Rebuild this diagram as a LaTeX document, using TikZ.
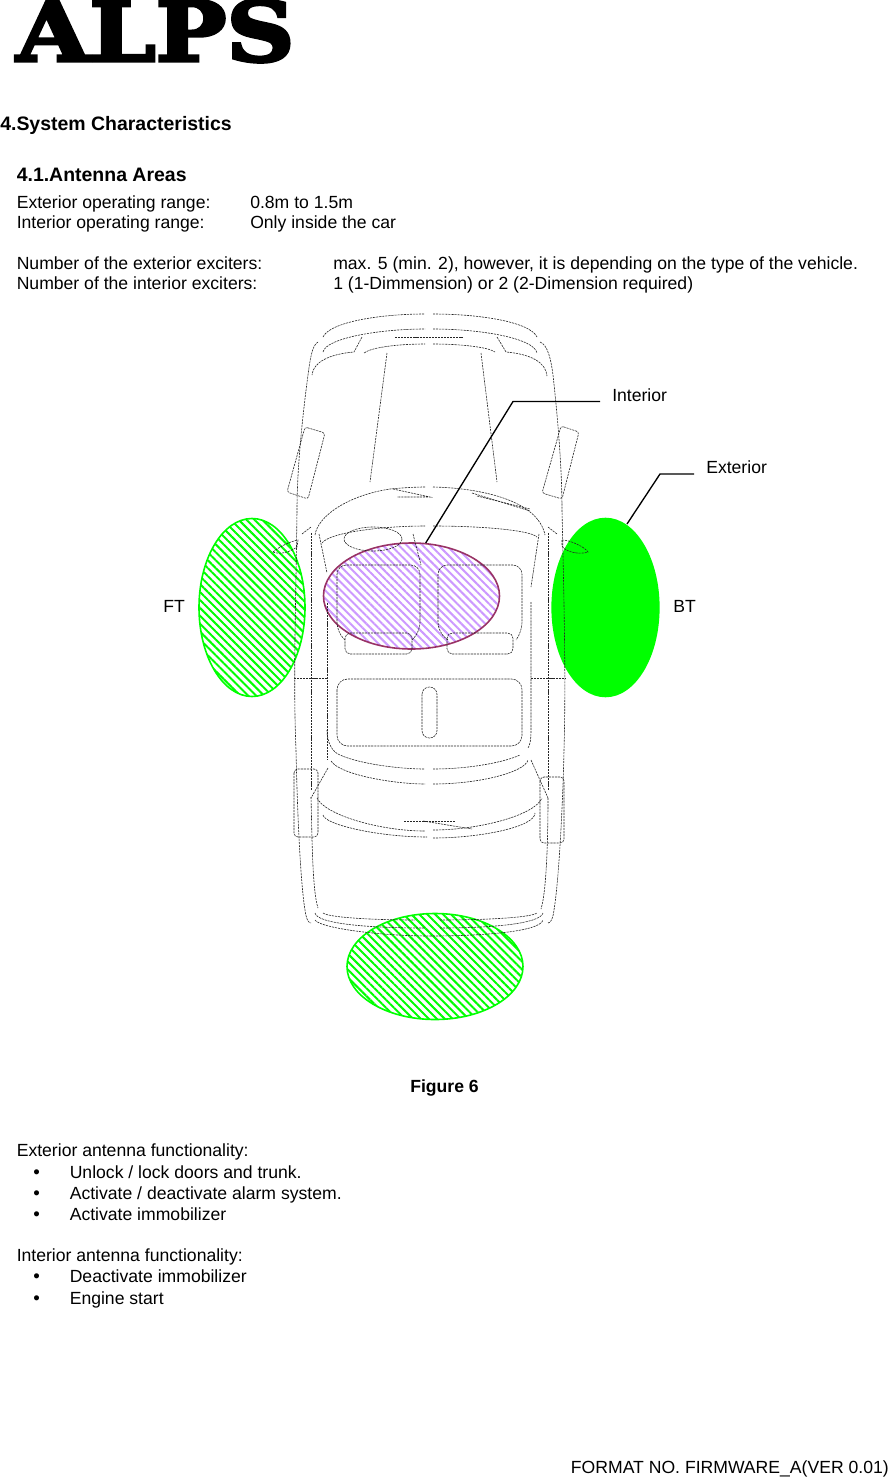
\documentclass[tikz,border=0pt]{standalone}
\usepackage{fontspec}
\setmainfont{Liberation Sans}
\newfontfamily\logofont[FakeBold=4,FakeStretch=1.14]{DejaVu Serif Bold}
\usetikzlibrary{patterns.meta,shapes.geometric}
\definecolor{antennagreen}{RGB}{0,255,0}
\definecolor{interiorhatch}{RGB}{204,153,255}
\definecolor{interiorrim}{RGB}{153,51,102}
\tikzset{
	bodytext/.style={anchor=base west, inner sep=0pt, font=\fontsize{13.2pt}{15pt}\selectfont},
	bullettext/.style={anchor=base west, inner sep=0pt, font=\fontsize{14pt}{15pt}\selectfont},
	headtext/.style={anchor=base west, inner sep=0pt, font=\fontsize{14.6pt}{17pt}\selectfont\bfseries},
	carline/.style={line width=0.45pt, black!85, dash pattern=on 1.6pt off 0.7pt},
	leader/.style={line width=1pt, black},
	area/.style={ellipse, inner sep=0pt, line width=1.2pt},
	hatchgreen/.style={draw=antennagreen, pattern={Lines[angle=-45, distance=4.2pt, line width=1.5pt]}, pattern color=antennagreen},
	hatchpurple/.style={draw=interiorrim, pattern={Lines[angle=-45, distance=4.2pt, line width=1.5pt]}, pattern color=interiorhatch}
}
\begin{document}
\begin{tikzpicture}[x=0.75pt, y=-0.75pt]
	\useasboundingbox (0,0) rectangle (888,1477);
	\node [anchor=base west, inner sep=0pt, font=\fontsize{62pt}{64pt}\logofont] (logo) at (16,61) {ALPS};
	%Testo in alto
	\node [headtext] (titlemain) at (0,130) {4.System Characteristics};
	\node [headtext] (titlesub) at (16.5,181) {4.1.Antenna Areas};
	\node [bodytext] (exrange) at (16.5,208) {Exterior operating range:};
	\node [bodytext] (exrangeval) at (250,208) {0.8m to 1.5m};
	\node [bodytext] (inrange) at (16.5,228) {Interior operating range:};
	\node [bodytext] (inrangeval) at (250,228) {Only inside the car};
	\node [bodytext] (exnumber) at (16.5,269) {Number of the exterior exciters:};
	\node [bodytext] (exnumberval) at (333,269) {max. 5 (min. 2), however, it is depending on the type of the vehicle.};
	\node [bodytext] (innumber) at (16.5,289) {Number of the interior exciters:};
	\node [bodytext] (innumberval) at (333,289) {1 (1-Dimmension) or 2 (2-Dimension required)};
	%Aree delle antenne
	\node [area, hatchgreen, minimum width=79.5pt, minimum height=133.5pt] (ftarea) at (252,607.5) {};
	\node [area, draw=antennagreen, fill=antennagreen, minimum width=80pt, minimum height=133.5pt] (btarea) at (605.5,607.5) {};
	\node [area, hatchgreen, minimum width=132pt, minimum height=79.5pt] (reararea) at (435,966.5) {};
	\node [area, hatchpurple, minimum width=132pt, minimum height=79.5pt] (interiorarea) at (411.5,596) {};
	%Carrozzeria
	\draw [carline] (323,337) .. controls (330,322) and (380,314) .. (425,314);
	\draw [carline] (433,314) .. controls (480,314) and (530,322) .. (537,337);
	\draw [carline] (323,352) .. controls (326,338) and (380,329) .. (425,329);
	\draw [carline] (433,329) .. controls (480,329) and (534,338) .. (537,353);
	\draw [carline] (395,337) -- (463,337);
	\draw [carline] (362,337) -- (354,352) .. controls (330,354) and (313,362) .. (312,375);
	\draw [carline] (497,337) -- (506,352) .. controls (530,354) and (546,362) .. (547,376);
	\draw [carline] (364,353) .. controls (372,347) and (400,344) .. (425,344);
	\draw [carline] (433,344) .. controls (460,344) and (488,347) .. (495,352);
	\draw [carline] (387,353) -- (370,482);
	\draw [carline] (481,353) -- (497,482);
	\draw [carline] (318,342) .. controls (312,345) and (310,360) .. (308,375) .. controls (302,420) and (297,470) .. (297,510) .. controls (296,600) and (293,680) .. (296,750) .. controls (297,800) and (300,880) .. (305,910) .. controls (306,918) and (308,923) .. (311,923);
	\draw [carline] (540,342) .. controls (548,345) and (551,360) .. (553,375) .. controls (558,420) and (562,470) .. (562,510) .. controls (564,600) and (566,680) .. (564,750) .. controls (563,800) and (559,880) .. (554,910) .. controls (553,918) and (551,923) .. (548,923);
	%Specchietti
	\draw [carline, rounded corners=2pt] (305,427) -- (325,433) -- (308,499) -- (287,492) -- cycle;
	\draw [carline, rounded corners=2pt] (561,426) -- (579,432) -- (562,499) -- (542,493) -- cycle;
	\draw [carline] (273,552) .. controls (280,546) and (292,541) .. (298,540) -- (297,547) .. controls (290,552) and (280,555) .. (273,552);
	\draw [carline] (562,540) .. controls (570,540) and (585,547) .. (588,552) .. controls (580,555) and (565,552) .. (562,546) -- cycle;
	%Abitacolo
	\draw [carline] (311,533) -- (311,790);
	\draw [carline] (548,533) -- (548,790);
	\draw [carline] (302,534) -- (311,527);
	\draw [carline] (548,527) -- (557,534);
	\draw [carline] (315,535) .. controls (318,515) and (350,495) .. (390,489) .. controls (400,488) and (415,487) .. (425,487);
	\draw [carline] (433,487) .. controls (480,488) and (538,500) .. (545,535);
	\draw [carline] (393,489) -- (430,497) -- (397,497);
	\draw [carline] (472,493) -- (530,511);
	\draw [carline] (477,496) -- (530,509);
	\draw [carline] (322,543) .. controls (330,532) and (385,526) .. (425,526);
	\draw [carline] (433,526) .. controls (480,526) and (530,530) .. (537,537);
	\draw [carline] (373,539) ellipse [x radius=29, y radius=12];
	\draw [carline] (413,534) -- (421,565);
	\draw [carline] (319,534) -- (327,573);
	\draw [carline] (327,603) -- (327,760);
	\draw [carline] (539,534) -- (531,587);
	\draw [carline] (531,602) -- (531,730) .. controls (531,740) and (530,745) .. (528,748);
	\draw [carline] (327,730) .. controls (327,742) and (332,752) .. (340,755) .. controls (360,764) and (400,769) .. (425,769);
	\draw [carline] (433,769) .. controls (470,769) and (505,762) .. (520,755);
	\draw [carline] (331,761) .. controls (340,775) and (395,784) .. (425,784);
	\draw [carline] (433,784) .. controls (480,784) and (525,772) .. (528,760);
	%Sedili
	\draw [carline, rounded corners=7pt] (345,640) -- (337,632) -- (337,565) -- (420,565) -- (420,632) -- (412,640);
	\draw [carline, rounded corners=7pt] (448,640) -- (438,632) -- (438,565) -- (522,565) -- (522,632) -- (516,640);
	\draw [carline, rounded corners=4pt] (345,633) rectangle (412,654);
	\draw [carline, rounded corners=4pt] (447,633) rectangle (513,654);
	\draw [carline, rounded corners=8pt] (337,679) rectangle (522,746);
	\draw [carline, rounded corners=5.5pt] (422,687) rectangle (437,738);
	\draw [carline] (294,678) -- (327,678);
	\draw [carline] (531,678) -- (565,678);
	%Parte posteriore
	\draw [carline] (328,768) -- (311,798);
	\draw [carline] (531,760) -- (548,798);
	\draw [carline, rounded corners=3pt] (294,769) rectangle (318,837);
	\draw [carline, rounded corners=3pt] (540,777) rectangle (564,843);
	\draw [carline] (317,798) .. controls (325,815) and (380,831) .. (425,831);
	\draw [carline] (433,830) .. controls (480,830) and (535,815) .. (542,798);
	\draw [carline] (323,815) .. controls (325,825) and (380,837) .. (427,837);
	\draw [carline] (433,838) .. controls (480,838) and (535,827) .. (535,813);
	\draw [carline] (404,821) -- (455,821);
	\draw [carline] (423,821) -- (472,829);
	\draw [carline] (311,797) .. controls (312,830) and (312,890) .. (318,908);
	\draw [carline] (548,798) .. controls (548,830) and (547,890) .. (541,909);
	\draw [carline] (323,913) .. controls (330,918) and (380,920) .. (415,920);
	\draw [carline] (440,920) .. controls (480,920) and (530,918) .. (537,913);
	\draw [carline] (315,913) .. controls (317,924) and (370,928) .. (425,928);
	\draw [carline] (440,928) .. controls (490,928) and (540,924) .. (543,913);
	\draw [carline] (315,920) .. controls (320,928) and (380,936) .. (430,936);
	\draw [carline] (430,936) .. controls (480,936) and (540,932) .. (543,920);
	%Etichette
	\node [bodytext] (interiorlabel) at (612,401) {Interior};
	\node [bodytext] (exteriorlabel) at (706,473) {Exterior};
	\node [bodytext] (ftlabel) at (163,612) {FT};
	\node [bodytext] (btlabel) at (673,612) {BT};
	\coordinate (interiorbend) at (513,401.5);
	\coordinate (exteriorbend) at (660,474);
	\coordinate (exteriortip) at (627,524);
	\draw [leader] ([xshift=-9pt,yshift=-0.4pt]interiorlabel.base west) -- (interiorbend) -- (interiorarea.75);
	\draw [leader] ([xshift=-9pt,yshift=-0.75pt]exteriorlabel.base west) -- (exteriorbend) -- (exteriortip);
	%Testo in basso
	\node [headtext, font=\fontsize{13.2pt}{15pt}\selectfont\bfseries] (figcaption) at (410,1092) {Figure 6};
	\node [bodytext] (exfunctions) at (16.5,1156) {Exterior antenna functionality:};
	\node [bullettext] (exbulleta) at (33,1178.5) {•};
	\node [bodytext] (exitema) at (69.5,1178) {Unlock / lock doors and trunk.};
	\node [bullettext] (exbulletb) at (33,1199.5) {•};
	\node [bodytext] (exitemb) at (69.5,1199) {Activate / deactivate alarm system.};
	\node [bullettext] (exbulletc) at (33,1220.5) {•};
	\node [bodytext] (exitemc) at (69.5,1220) {Activate immobilizer};
	\node [bodytext] (infunctions) at (16.5,1261) {Interior antenna functionality:};
	\node [bullettext] (inbulleta) at (33,1282.5) {•};
	\node [bodytext] (initema) at (69.5,1282) {Deactivate immobilizer};
	\node [bullettext] (inbulletb) at (33,1304.5) {•};
	\node [bodytext] (initemb) at (69.5,1304) {Engine start};
	\node [bodytext, anchor=base east] (footer) at (889,1473) {FORMAT NO. FIRMWARE\_A(VER 0.01)};
\end{tikzpicture}
\end{document}
